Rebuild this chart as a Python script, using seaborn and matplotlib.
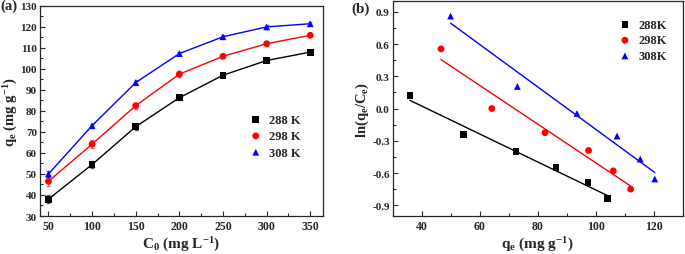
import numpy as np
import pandas as pd
import matplotlib
matplotlib.use('Agg')
import matplotlib.pyplot as plt
import seaborn as sns
from matplotlib.ticker import AutoMinorLocator

# ---- data ----
c0 = [50, 100, 150, 200, 250, 300, 350]
qe_288 = [38.0, 54.5, 72.5, 86.3, 97.0, 104.0, 108.0]
qe_298 = [46.5, 64.2, 82.5, 97.5, 106.0, 112.0, 116.0]
qe_308 = [50.0, 73.0, 93.5, 107.3, 115.3, 120.0, 121.5]
err_288 = [2.0, 1.6, 1.5, 1.0, 0.9, 0.8, 0.8]
err_298 = [2.0, 1.8, 1.5, 1.5, 1.0, 0.9, 0.8]
err_308 = [1.2, 1.0, 1.0, 0.9, 0.8, 0.8, 0.8]

lnq_x_288 = [36.0, 54.5, 72.5, 86.3, 97.3, 104.0]
lnq_y_288 = [0.12, -0.24, -0.40, -0.55, -0.69, -0.84]
lnq_x_298 = [46.7, 64.2, 82.5, 97.5, 106.0, 112.0]
lnq_y_298 = [0.555, 0.0, -0.225, -0.39, -0.58, -0.75]
lnq_x_308 = [50.0, 73.0, 93.5, 107.3, 115.3, 120.3]
lnq_y_308 = [0.86, 0.205, -0.046, -0.256, -0.47, -0.655]

temps_a = ['288 K', '298 K', '308 K']
temps_b = ['288K', '298K', '308K']
colors = ['black', 'red', 'blue']
markers = ['s', 'o', '^']

sns.set_style('ticks')
plt.rcParams['font.family'] = ['Liberation Serif', 'DejaVu Serif']
plt.rcParams['font.weight'] = 'bold'
plt.rcParams['axes.labelweight'] = 'bold'
plt.rcParams['mathtext.fontset'] = 'custom'
plt.rcParams['mathtext.rm'] = 'Liberation Serif:bold'
plt.rcParams['mathtext.it'] = 'Liberation Serif:bold'
plt.rcParams['mathtext.bf'] = 'Liberation Serif:bold'
plt.rcParams['mathtext.default'] = 'rm'

fig = plt.figure(figsize=(6.85, 2.55), dpi=100)
ax1 = fig.add_axes([0.058, 0.149, 0.414, 0.824])
ax2 = fig.add_axes([0.573, 0.149, 0.424, 0.843])

# ---- panel (a) ----
series_a = [(qe_288, err_288), (qe_298, err_298), (qe_308, err_308)]
for (q, e), lab, col, mk in zip(series_a, temps_a, colors, markers):
    df = pd.DataFrame({'c0': c0, 'qe': q})
    sns.lineplot(data=df, x='c0', y='qe', color=col, lw=1, ax=ax1)
    ax1.errorbar(c0, q, yerr=e, fmt='none', ecolor=col, elinewidth=0.7, capsize=1.5, alpha=0.6)
    sns.scatterplot(data=df, x='c0', y='qe', color=col, marker=mk, s=24,
                    edgecolor='none', ax=ax1, label=lab, zorder=3)

ax1.set_xlim(40, 365)
ax1.set_ylim(30, 130)
ax1.set_xticks(c0)
ax1.set_yticks(range(30, 131, 10))
ax1.set_xlabel('C$_0$ (mg L$^{-1}$)', fontsize=11, labelpad=2)
ax1.set_ylabel('q$_e$ (mg g$^{-1}$)', fontsize=10.5, labelpad=0)
ax1.legend(loc='center left', bbox_to_anchor=(0.7, 0.38), frameon=False,
           handletextpad=0.6, labelspacing=0.35, handlelength=1.0,
           prop={'weight': 'bold', 'size': 9})

# ---- panel (b) ----
series_b = [(lnq_x_288, lnq_y_288), (lnq_x_298, lnq_y_298), (lnq_x_308, lnq_y_308)]
for (xs, ys), lab, col, mk in zip(series_b, temps_b, colors, markers):
    df = pd.DataFrame({'qe': xs, 'lnk': ys})
    sns.regplot(data=df, x='qe', y='lnk', ci=None, color=col, marker=mk,
                scatter_kws={'s': 24, 'edgecolor': 'none', 'alpha': 1},
                line_kws={'lw': 1}, ax=ax2, label=lab)

ax2.set_xlim(30, 130)
ax2.set_ylim(-1.0, 1.0)
ax2.set_xticks([40, 60, 80, 100, 120])
ax2.set_yticks([-0.9, -0.6, -0.3, 0.0, 0.3, 0.6, 0.9])
ax2.set_xlabel('q$_e$ (mg g$^{-1}$)', fontsize=11, labelpad=2)
ax2.set_ylabel('ln(q$_e$/C$_e$)', fontsize=10.5, labelpad=1)
h, l = ax2.get_legend_handles_labels()
ax2.legend(h[:3], l[:3], loc='upper left', bbox_to_anchor=(0.74, 0.97), frameon=False,
           handletextpad=0.6, labelspacing=0.3, handlelength=1.0,
           prop={'weight': 'bold', 'size': 9})
ax2.yaxis.set_major_formatter(matplotlib.ticker.FormatStrFormatter('%.1f'))

for ax in (ax1, ax2):
    ax.xaxis.set_minor_locator(AutoMinorLocator(2))
    ax.yaxis.set_minor_locator(AutoMinorLocator(2))
    ax.tick_params(which='both', direction='in', top=False, right=False)
    ax.tick_params(which='major', length=3.5, width=0.8, labelsize=8.5, pad=3)
    ax.tick_params(axis='y', which='major', labelsize=8, pad=2)
    ax.tick_params(which='minor', length=2, width=0.8)
    for sp in ax.spines.values():
        sp.set_visible(True)
        sp.set_linewidth(0.9)
    for t in ax.get_xticklabels() + ax.get_yticklabels():
        t.set_fontweight('bold')

fig.text(0.0, 0.975, '(a)', fontsize=10.5, fontweight='bold', va='center')
fig.text(0.513, 0.965, '(b)', fontsize=11, fontweight='bold', va='center')

fig.savefig('out.png', dpi=100)
